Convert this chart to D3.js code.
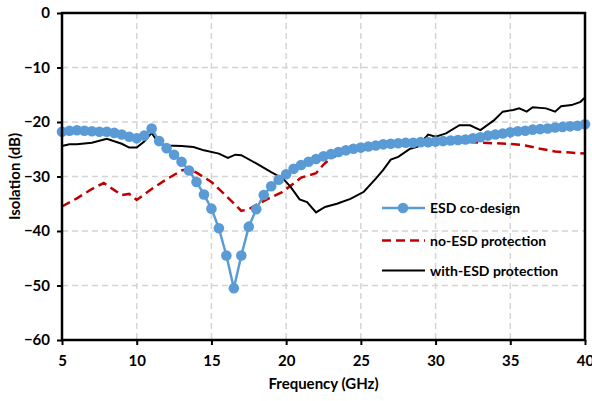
<!DOCTYPE html>
<html lang="en">
<head>
<meta charset="utf-8">
<title>Isolation</title>
<script src="https://cdn.jsdelivr.net/npm/d3@7"></script>
<style>
  body { margin: 0; background: #fff; }
  text { font-family: Lato, "Open Sans", sans-serif; font-weight: bold; fill: #000; }
</style>
</head>
<body>
<div id="chart"></div>
<script>
// ESD co-design (0.5 GHz steps)
const coFreq = d3.range(5, 40.01, 0.5)
const coIso = [
  -21.8, -21.6, -21.5, -21.6, -21.7, -21.8, -21.8, -22.0, -22.3, -22.7,
  -23.0, -22.5, -21.2, -23.5, -24.8, -26.0, -27.3, -28.9, -31.0, -33.3,
  -35.9, -39.5, -44.5, -50.5, -44.5, -39.2, -36.0, -33.4, -31.8, -30.6,
  -29.6, -28.6, -27.9, -27.3, -26.8, -26.3, -25.9, -25.5, -25.2, -24.9,
  -24.7, -24.5, -24.3, -24.1, -24.0, -23.9, -23.8, -23.8, -23.7, -23.7,
  -23.6, -23.5, -23.4, -23.3, -23.2, -23.0, -22.8, -22.5, -22.3, -22.1,
  -21.9, -21.7, -21.6, -21.4, -21.3, -21.2, -21.0, -20.9, -20.8, -20.7,
  -20.4
]

// no-ESD protection
const noFreq = [5, 6, 7, 7.8, 8.5, 9, 9.5, 10, 11, 12, 13, 13.5, 14, 15, 16, 17, 17.5, 18, 19, 19.7,
  20.5, 21, 22, 22.5, 23, 24, 25, 26, 27, 28, 29, 30, 31, 32, 33, 34, 35, 36, 37, 38, 39, 40]
const noIso = [-35.5, -34.0, -32.3, -31.2, -32.5, -33.4, -33.2, -34.3, -32.3, -30.5, -28.9, -28.6, -29.3, -31.0, -33.6, -36.3, -36.0, -35.2, -33.8, -32.9,
  -31.3, -30.2, -29.4, -27.8, -26.6, -25.5, -25.2, -24.5, -23.9, -23.5, -23.3, -23.3, -23.4, -23.6, -23.8, -23.9, -24.0, -24.3, -24.9, -25.4, -25.6, -25.8]

// with-ESD protection
const withFreq = [5, 5.5, 6, 7, 8, 9, 9.5, 10, 10.5, 11, 11.5, 12, 13, 13.8, 14.5, 15.5, 16.1, 16.6, 17, 18,
  19, 19.8, 20.3, 20.9, 21.4, 22, 22.6, 23.4, 24.3, 25.2, 26, 26.5, 27, 27.5, 28.3, 28.8, 29.5, 30, 30.7, 31.6,
  32.3, 33, 33.9, 34.5, 35.2, 35.6, 36.1, 36.5, 37.4, 38, 38.4, 39.1, 39.7, 40]
const withIso = [-24.4, -24.1, -24.1, -23.8, -23.1, -24.0, -24.7, -24.7, -23.6, -22.0, -24.0, -24.3, -24.4, -24.6, -25.2, -25.8, -26.6, -26.0, -26.1, -27.6,
  -29.2, -30.4, -31.9, -34.2, -34.7, -36.6, -35.6, -35.0, -34.1, -32.8, -30.4, -28.8, -26.9, -26.4, -24.9, -24.5, -22.3, -22.7, -22.1, -20.6,
  -20.6, -21.5, -19.7, -18.1, -17.8, -17.5, -18.1, -17.3, -17.5, -18.1, -17.1, -16.9, -16.3, -15.5]

const xTicks = [5, 10, 15, 20, 25, 30, 35, 40]
const yTicks = [0, -10, -20, -30, -40, -50, -60]

const width = 592, height = 401
const margin = {top: 13, right: 7, bottom: 61, left: 62}
const innerW = width - margin.left - margin.right
const innerH = height - margin.top - margin.bottom

const svg = d3.select("#chart").append("svg")
  .attr("width", width)
  .attr("height", height)

const x = d3.scaleLinear().domain([5, 40]).range([margin.left, margin.left + innerW])
const y = d3.scaleLinear().domain([-60, 0]).range([margin.top + innerH, margin.top])

// grid
svg.append("g").selectAll("line")
  .data(xTicks.slice(1, -1))
  .join("line")
  .attr("x1", d => x(d)).attr("x2", d => x(d))
  .attr("y1", margin.top).attr("y2", margin.top + innerH)
  .attr("stroke", "#d4d4d4").attr("stroke-width", 1.5).attr("stroke-dasharray", "6,4")
svg.append("g").selectAll("line")
  .data(yTicks.slice(1, -1))
  .join("line")
  .attr("x1", margin.left).attr("x2", margin.left + innerW)
  .attr("y1", d => y(d)).attr("y2", d => y(d))
  .attr("stroke", "#d4d4d4").attr("stroke-width", 1.5).attr("stroke-dasharray", "6,4")

// axes
const xAxis = svg.append("g")
  .attr("transform", `translate(0,${margin.top + innerH})`)
  .call(d3.axisBottom(x).tickValues(xTicks).tickSize(5).tickPadding(10))
const yAxis = svg.append("g")
  .attr("transform", `translate(${margin.left},0)`)
  .call(d3.axisLeft(y).tickValues(yTicks).tickSize(5).tickPadding(7).tickFormat(d3.format("d")))
;[xAxis, yAxis].forEach(a => {
  a.select(".domain").remove()
  a.selectAll(".tick line").attr("stroke", "#000").attr("stroke-width", 2)
  a.selectAll(".tick text").style("font-size", "15px")
})

// lines
const line = (xs) => d3.line().x((d, i) => x(xs[i])).y(d => y(d))

svg.append("path")
  .attr("d", line(noFreq)(noIso))
  .attr("fill", "none").attr("stroke", "#c00000").attr("stroke-width", 2.5)
  .attr("stroke-dasharray", "9,5")

svg.append("path")
  .attr("d", line(withFreq)(withIso))
  .attr("fill", "none").attr("stroke", "#000").attr("stroke-width", 2)

svg.append("path")
  .attr("d", line(coFreq)(coIso))
  .attr("fill", "none").attr("stroke", "#5b9bd5").attr("stroke-width", 2.5)
svg.append("g").selectAll("circle")
  .data(coIso)
  .join("circle")
  .attr("cx", (d, i) => x(coFreq[i]))
  .attr("cy", d => y(d))
  .attr("r", 5.3)
  .attr("fill", "#5b9bd5")

// frame
svg.append("rect")
  .attr("x", margin.left).attr("y", margin.top)
  .attr("width", innerW).attr("height", innerH)
  .attr("fill", "none").attr("stroke", "#000").attr("stroke-width", 2.5)

// axis titles
svg.append("text")
  .attr("x", margin.left + innerW / 2).attr("y", 389)
  .attr("text-anchor", "middle").style("font-size", "15px")
  .text("Frequency (GHz)")
svg.append("text")
  .attr("transform", `translate(20,${margin.top + innerH / 2}) rotate(-90)`)
  .attr("text-anchor", "middle").style("font-size", "15px")
  .text("Isolation (dB)")

// legend
const legend = svg.append("g")
const items = [
  {label: "ESD co-design", color: "#5b9bd5", dash: null, w: 2.5, marker: true, y: 208},
  {label: "no-ESD protection", color: "#c00000", dash: "9,5", w: 2.5, marker: false, y: 240.5},
  {label: "with-ESD protection", color: "#000", dash: null, w: 2, marker: false, y: 270.5}
]
items.forEach(it => {
  legend.append("line")
    .attr("x1", 382).attr("x2", 425).attr("y1", it.y).attr("y2", it.y)
    .attr("stroke", it.color).attr("stroke-width", it.w)
    .attr("stroke-dasharray", it.dash)
  if (it.marker) {
    legend.append("circle").attr("cx", 403).attr("cy", it.y).attr("r", 5.3).attr("fill", it.color)
  }
  legend.append("text")
    .attr("x", 430).attr("y", it.y + 5)
    .style("font-size", "14px")
    .text(it.label)
})
</script>
</body>
</html>
